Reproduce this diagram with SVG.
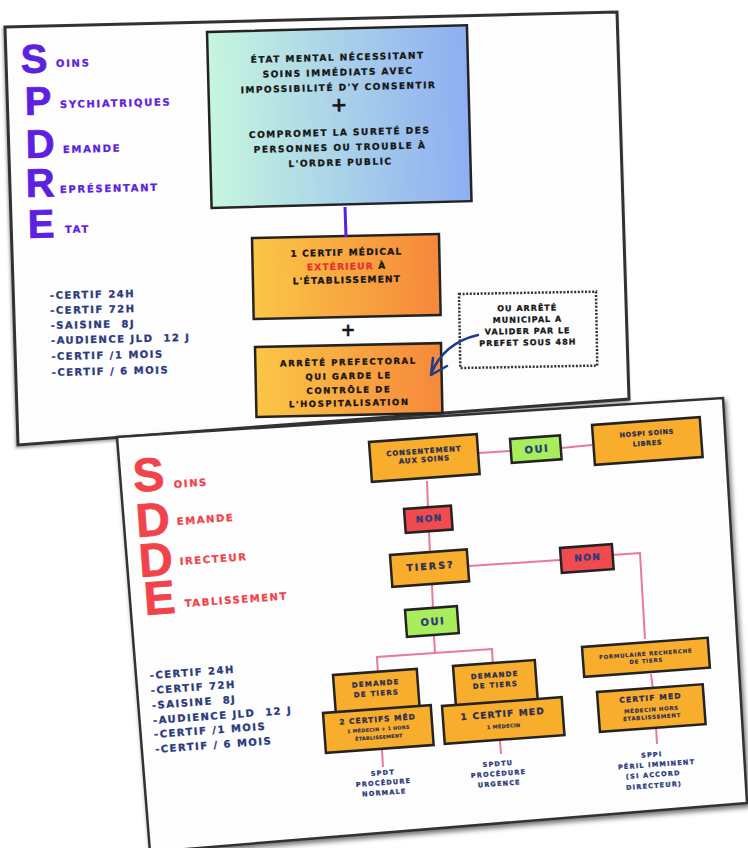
<svg xmlns="http://www.w3.org/2000/svg" width="748" height="848" viewBox="0 0 748 848">
<defs>
<linearGradient id="gBlue" x1="0" y1="0" x2="1" y2="0"><stop offset="0" stop-color="#c6f6df"/><stop offset="1" stop-color="#8eaef2"/></linearGradient>
<linearGradient id="gOr" x1="0" y1="0" x2="1" y2="0"><stop offset="0" stop-color="#fbc646"/><stop offset="1" stop-color="#f6883b"/></linearGradient>
<filter id="sh" x="-5%" y="-5%" width="110%" height="110%"><feDropShadow dx="2" dy="3" stdDeviation="2.5" flood-color="#000" flood-opacity="0.55"/></filter>
<filter id="sh2" x="-5%" y="-5%" width="110%" height="110%"><feDropShadow dx="-1" dy="2" stdDeviation="1.5" flood-color="#000" flood-opacity="0.35"/></filter>
<style>
.f{font-family:"DejaVu Sans","Liberation Sans",sans-serif;font-weight:bold;stroke-width:0.3}
.big{font-family:"Liberation Sans",Arial,sans-serif;font-weight:bold;stroke-width:0.8}
.c{text-anchor:middle}
.bx{stroke:#232323;stroke-width:2.5}
.ob{fill:#f8ad2c}
.gr{fill:#a8ee5c}
.rd{fill:#f04b4e}
.pu{fill:#5d1fe0;stroke:#5d1fe0}
.re{fill:#f0444a;stroke:#f0444a}
.nv{fill:#2b3a7c;stroke:#2b3a7c}
.dk{fill:#2b2d50;stroke:#2b2d50}
.bk{fill:#161616;stroke:#161616}
.lnk{fill:none;stroke:#e9789f;stroke-width:2}
</style>
</defs>
<rect width="748" height="848" fill="#ffffff"/>

<!-- ===== TOP CARD : SPDRE ===== -->
<g id="card-spdre">
<polygon points="5,27 617,12 629,399 18,445" fill="#fdfdfd" stroke="#333" stroke-width="3" filter="url(#sh2)"/>
<g id="acronym-spdre">
<text class="big pu" font-size="40" transform="translate(21,73) rotate(-1.3)">S</text>
<text class="big pu" font-size="40" transform="translate(25,115) rotate(-1.3)">P</text>
<text class="big pu" font-size="40" transform="translate(26,158) rotate(-1.3)">D</text>
<text class="big pu" font-size="40" transform="translate(26,197) rotate(-1.3)">R</text>
<text class="big pu" font-size="40" transform="translate(28,238) rotate(-1.3)">E</text>
<text class="f pu" font-size="10" letter-spacing="1.7" transform="translate(56,67) rotate(-1.3)">OINS</text>
<text class="f pu" font-size="10" letter-spacing="1.7" transform="translate(60,108) rotate(-1.3)">SYCHIATRIQUES</text>
<text class="f pu" font-size="10" letter-spacing="1.7" transform="translate(63,153) rotate(-1.3)">EMANDE</text>
<text class="f pu" font-size="10" letter-spacing="1.7" transform="translate(60,193) rotate(-1.3)">EPRÉSENTANT</text>
<text class="f pu" font-size="10" letter-spacing="1.7" transform="translate(65,233) rotate(-1.3)">TAT</text>
</g>
<g id="list-spdre" transform="translate(50,299) rotate(-1.3)">
<text class="f nv" font-size="10" letter-spacing="1.5" xml:space="preserve"><tspan x="0" y="0">-CERTIF 24H</tspan><tspan x="0" y="15">-CERTIF 72H</tspan><tspan x="0" y="30">-SAISINE  8J</tspan><tspan x="0" y="45">-AUDIENCE JLD  12 J</tspan><tspan x="0" y="61">-CERTIF /1 MOIS</tspan><tspan x="0" y="77">-CERTIF / 6 MOIS</tspan></text>
</g>
<g id="node-etat" transform="translate(207,32) rotate(-1.5)">
<rect width="260" height="176" fill="url(#gBlue)" class="bx"/>
<text class="f c bk" font-size="9" letter-spacing="1.5"><tspan x="130" y="32">ÉTAT MENTAL NÉCESSITANT</tspan><tspan x="130" y="47">SOINS IMMÉDIATS AVEC</tspan><tspan x="130" y="62">IMPOSSIBILITÉ D'Y CONSENTIR</tspan></text>
<text class="f c bk" font-size="20" x="130" y="83">+</text>
<text class="f c bk" font-size="9" letter-spacing="1.5"><tspan x="130" y="107">COMPROMET LA SURETÉ DES</tspan><tspan x="130" y="122">PERSONNES OU TROUBLE À</tspan><tspan x="130" y="137">L'ORDRE PUBLIC</tspan></text>
</g>
<g id="node-certif" transform="translate(252,238) rotate(-1.2)">
<rect width="187" height="81" fill="url(#gOr)" class="bx"/>
<text class="f c bk" font-size="9" letter-spacing="1.2" x="94" y="19.5">1 CERTIF MÉDICAL</text>
<text class="f c bk" font-size="9" letter-spacing="1.2" x="94" y="33.5"><tspan fill="#e8302c" stroke="#e8302c">EXTÉRIEUR</tspan> À</text>
<text class="f c bk" font-size="9" letter-spacing="1.2" x="94" y="47">L'ÉTABLISSEMENT</text>
</g>
<text id="plus-top" class="f c bk" font-size="18" x="348" y="336">+</text>
<g id="node-arrete" transform="translate(255,347) rotate(-1.2)">
<rect width="186" height="70" fill="url(#gOr)" class="bx"/>
<text class="f c bk" font-size="8.5" letter-spacing="1.6"><tspan x="93" y="20">ARRÊTÉ PREFECTORAL</tspan><tspan x="93" y="34">QUI GARDE LE</tspan><tspan x="93" y="48">CONTRÔLE DE</tspan><tspan x="93" y="61">L'HOSPITALISATION</tspan></text>
</g>
<g id="node-municipal" transform="translate(459,294) rotate(-1)">
<rect width="137" height="74" fill="none" stroke="#333" stroke-width="2.5" stroke-dasharray="2 1.6"/>
<text class="f c bk" font-size="8" letter-spacing="1"><tspan x="68" y="18">OU ARRÊTÉ</tspan><tspan x="68" y="29.5">MUNICIPAL A</tspan><tspan x="68" y="41">VALIDER PAR LE</tspan><tspan x="68" y="52.5">PREFET SOUS 48H</tspan></text>
</g>
<g id="connectors-top">
<line x1="345" y1="207" x2="346" y2="237" stroke="#5d1fe0" stroke-width="3"/>
<path d="M478,335 C456,340 440,352 431,374" fill="none" stroke="#1f3c88" stroke-width="2.5" stroke-linecap="round"/>
<path d="M433,358 L431,375 L447,366" fill="none" stroke="#1f3c88" stroke-width="2.5" stroke-linecap="round" stroke-linejoin="round"/>
</g>
</g>

<!-- ===== BOTTOM CARD : SDDE ===== -->
<g id="card-sdde">
<polygon points="117,437 723,398 747,803 150,852" fill="#fdfdfd" stroke="#333" stroke-width="2.5" filter="url(#sh)"/>
<g id="acronym-sdde">
<text class="big re" font-size="47" transform="translate(134,492) rotate(-4.2)">S</text>
<text class="big re" font-size="47" transform="translate(137,537) rotate(-4.2)">D</text>
<text class="big re" font-size="47" transform="translate(140,577) rotate(-4.2)">D</text>
<text class="big re" font-size="47" transform="translate(145,615) rotate(-4.2)">E</text>
<text class="f re" font-size="10" letter-spacing="1.6" transform="translate(174,488) rotate(-4.2)">OINS</text>
<text class="f re" font-size="10" letter-spacing="1.6" transform="translate(177,525) rotate(-4.2)">EMANDE</text>
<text class="f re" font-size="10" letter-spacing="1.6" transform="translate(180,565) rotate(-4.2)">IRECTEUR</text>
<text class="f re" font-size="10" letter-spacing="1.6" transform="translate(185,607) rotate(-4.2)">TABLISSEMENT</text>
</g>
<g id="list-sdde" transform="translate(150,679) rotate(-4.2)">
<text class="f nv" font-size="10" letter-spacing="1.5" xml:space="preserve"><tspan x="0" y="0">-CERTIF 24H</tspan><tspan x="0" y="15">-CERTIF 72H</tspan><tspan x="0" y="30">-SAISINE  8J</tspan><tspan x="0" y="45">-AUDIENCE JLD  12 J</tspan><tspan x="0" y="59">-CERTIF /1 MOIS</tspan><tspan x="0" y="74">-CERTIF / 6 MOIS</tspan></text>
</g>
<g id="connectors-bottom" class="lnk">
<path d="M479,453 L510,451"/>
<path d="M561,448 L592,445"/>
<path d="M427,481 L428,509"/>
<path d="M429,532 L430,554"/>
<path d="M469,566 L560,560"/>
<path d="M612,555 L640,553 L645,639"/>
<path d="M432,585 L433,610"/>
<path d="M434,636 L435,652"/>
<path d="M378,676 L377,657 L492,649 L493,667"/>
<path d="M651,674 L653,690"/>
<path d="M382,750 L383,767"/>
<path d="M500,741 L501,754"/>
<path d="M656,727 L657,744"/>
</g>
<g id="node-consent" transform="translate(369,442) rotate(-4.2)">
<rect width="108" height="40" class="bx ob"/>
<text class="f c dk" font-size="7" letter-spacing="0.9"><tspan x="54" y="15.5">CONSENTEMENT</tspan><tspan x="54" y="24">AUX SOINS</tspan></text>
</g>
<g id="node-oui1" transform="translate(510,439) rotate(-4.2)">
<rect width="50" height="24" class="bx gr"/>
<text class="f c nv" font-size="10" letter-spacing="1.5" x="26" y="15.5">OUI</text>
</g>
<g id="node-hospi" transform="translate(592,425) rotate(-4.2)">
<rect width="108" height="40" class="bx ob"/>
<text class="f c dk" font-size="6.5" letter-spacing="0.6"><tspan x="54" y="14.5">HOSPI SOINS</tspan><tspan x="54" y="24.5">LIBRES</tspan></text>
</g>
<g id="node-non1" transform="translate(404,509) rotate(-4.2)">
<rect width="47" height="24" class="bx rd"/>
<text class="f c nv" font-size="9" letter-spacing="1.5" x="24.5" y="14.5">NON</text>
</g>
<g id="node-tiers" transform="translate(390,555) rotate(-4.2)">
<rect width="77" height="32" class="bx ob"/>
<text class="f c dk" font-size="9.5" letter-spacing="2" x="39.5" y="17.5">TIERS?</text>
</g>
<g id="node-non2" transform="translate(560,548) rotate(-4.2)">
<rect width="52" height="25" class="bx rd"/>
<text class="f c nv" font-size="9" letter-spacing="1.5" x="27" y="14.5">NON</text>
</g>
<g id="node-oui2" transform="translate(405,610) rotate(-4.2)">
<rect width="52" height="27" class="bx gr"/>
<text class="f c nv" font-size="10" letter-spacing="1.5" x="27" y="17">OUI</text>
</g>
<g id="node-demande1" transform="translate(333,675) rotate(-4.2)">
<rect width="84" height="42" class="bx ob"/>
<text class="f c dk" font-size="7" letter-spacing="1.2"><tspan x="42" y="14">DEMANDE</tspan><tspan x="42" y="24">DE TIERS</tspan></text>
</g>
<g id="node-certifs2" transform="translate(323,713) rotate(-4.2)">
<rect width="108" height="40" class="bx ob"/>
<text class="f c dk" font-size="7.5" letter-spacing="1" x="54" y="13">2 CERTIFS MÉD</text>
<text class="f c dk" font-size="4.8" letter-spacing="0.3" style="stroke-width:0.15"><tspan x="54" y="22">1 MÉDECIN + 1 HORS</tspan><tspan x="54" y="30">ÉTABLISSEMENT</tspan></text>
</g>
<g id="node-demande2" transform="translate(453,666) rotate(-4.2)">
<rect width="82" height="42" class="bx ob"/>
<text class="f c dk" font-size="7" letter-spacing="1.2"><tspan x="41" y="14.5">DEMANDE</tspan><tspan x="41" y="24.5">DE TIERS</tspan></text>
</g>
<g id="node-certif1" transform="translate(442,706) rotate(-4.2)">
<rect width="120" height="38" class="bx ob"/>
<text class="f c dk" font-size="9" letter-spacing="1.2" x="60" y="15.5">1 CERTIF MED</text>
<text class="f c dk" font-size="5" letter-spacing="0.3" style="stroke-width:0.15" x="60" y="26.5">1 MÉDECIN</text>
</g>
<g id="node-formulaire" transform="translate(582,647) rotate(-4.2)">
<rect width="126" height="30" class="bx ob"/>
<text class="f c dk" font-size="5.5" letter-spacing="0.7" style="stroke-width:0.15"><tspan x="63" y="13.5">FORMULAIRE RECHERCHE</tspan><tspan x="63" y="20.5">DE TIERS</tspan></text>
</g>
<g id="node-certifmed" transform="translate(597,692) rotate(-4.2)">
<rect width="106" height="40" class="bx ob"/>
<text class="f c dk" font-size="7.5" letter-spacing="1.2" x="53" y="12.5">CERTIF MED</text>
<text class="f c dk" font-size="5.5" letter-spacing="0.6" style="stroke-width:0.15"><tspan x="53" y="23.5">MÉDECIN HORS</tspan><tspan x="53" y="31">ÉTABLISSEMENT</tspan></text>
</g>
<g id="label-spdt" transform="translate(383,775) rotate(-4.2)">
<text class="f c nv" font-size="6.5" letter-spacing="1.2"><tspan x="0" y="0">SPDT</tspan><tspan x="0" y="10">PROCÉDURE</tspan><tspan x="0" y="20">NORMALE</tspan></text>
</g>
<g id="label-spdtu" transform="translate(498,766) rotate(-4.2)">
<text class="f c nv" font-size="6.5" letter-spacing="1.2"><tspan x="0" y="0">SPDTU</tspan><tspan x="0" y="10">PROCÉDURE</tspan><tspan x="0" y="20">URGENCE</tspan></text>
</g>
<g id="label-sppi" transform="translate(652,757) rotate(-4.2)">
<text class="f c nv" font-size="6.5" letter-spacing="1.2"><tspan x="0" y="0">SPPI</tspan><tspan x="4" y="10">PÉRIL IMMINENT</tspan><tspan x="0" y="20">(SI ACCORD</tspan><tspan x="0" y="31">DIRECTEUR)</tspan></text>
</g>
</g>
</svg>
